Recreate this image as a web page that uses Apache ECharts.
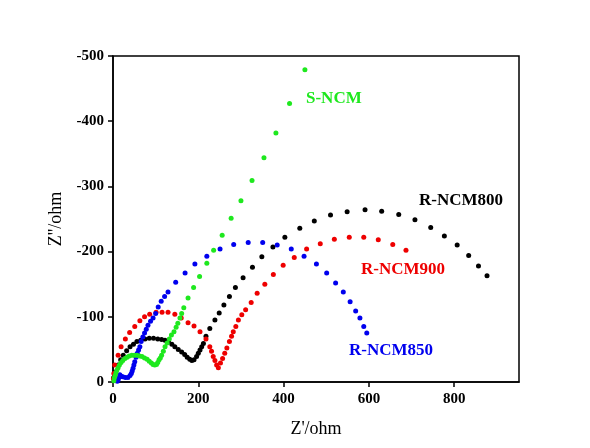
<!DOCTYPE html>
<html>
<head>
<meta charset="utf-8">
<script src="https://cdn.jsdelivr.net/npm/echarts@6/dist/echarts.min.js"></script>
<style>
html,body{margin:0;padding:0;background:#fff;}
#chart{width:590px;height:448px;}
</style>
</head>
<body>
<div id="chart"></div>
<script>
// Z' (ohm) and Z'' (ohm) pairs
const rNCM800 = [[1,-6],[5,-15],[12,-26],[18,-34],[24,-41],[32,-48],[40,-54],[48,-58],[56,-62],[65,-64],[75,-66],[85,-67],[95,-67],[105,-66],[114,-65],[122,-64],[130,-62],[138,-58],[145,-54],[153,-50],[161,-46],[168,-42],[174,-38],[180,-35],[185,-33],[190,-34],[196,-39],[200,-44],[204,-49],[208,-54],[212,-59],[218,-70],[227,-82],[239,-95],[249,-106],[260,-118],[273,-131],[287,-145],[305,-160],[327,-176],[349,-192],[375,-207],[403,-222],[438,-236],[472,-247],[510,-256],[549,-261],[591,-264],[630,-262],[670,-257],[708,-249],[745,-237],[777,-224],[807,-210],[834,-194],[857,-178],[877,-163]];
const rNCM900 = [[1,-5],[2,-13],[4,-26],[12,-41],[19,-54],[29,-66],[39,-76],[51,-85],[63,-94],[74,-100],[86,-104],[101,-107],[115,-107],[129,-107],[145,-104],[160,-98],[176,-91],[190,-86],[204,-77],[218,-66],[227,-54],[231,-47],[235,-39],[239,-33],[243,-26],[247,-22],[252,-29],[257,-36],[262,-44],[267,-52],[273,-62],[278,-70],[282,-77],[288,-85],[294,-95],[302,-103],[311,-111],[324,-122],[338,-136],[356,-150],[376,-165],[399,-179],[425,-191],[454,-204],[486,-212],[519,-219],[554,-222],[588,-222],[622,-218],[656,-211],[687,-202]];
const rNCM850 = [[10,-1],[12,-3],[14,-7],[16,-11],[19,-9],[23,-8],[29,-7],[35,-7],[40,-10],[43,-13],[45,-17],[47,-21],[49,-26],[51,-31],[54,-38],[57,-44],[60,-49],[63,-54],[66,-62],[70,-69],[74,-75],[78,-81],[82,-87],[88,-93],[94,-98],[100,-105],[106,-115],[113,-124],[121,-131],[129,-138],[147,-153],[169,-167],[192,-181],[220,-193],[251,-204],[283,-211],[317,-214],[351,-214],[385,-210],[418,-204],[448,-193],[477,-181],[501,-167],[522,-152],[540,-138],[556,-123],[569,-109],[579,-98],[588,-85],[595,-75]];
const sNCM = [[2,-2],[3,-6],[5,-10],[7,-14],[9,-18],[12,-22],[15,-26],[19,-30],[23,-33],[28,-36],[33,-38],[38,-40],[44,-41],[50,-41],[56,-41],[62,-40],[68,-39],[74,-37],[80,-35],[85,-32],[90,-29],[94,-27],[98,-26],[102,-27],[105,-30],[108,-34],[111,-37],[114,-41],[118,-47],[122,-54],[127,-60],[132,-66],[137,-72],[143,-77],[148,-84],[152,-90],[157,-98],[161,-105],[166,-114],[176,-129],[189,-145],[203,-162],[220,-182],[236,-202],[256,-225],[277,-251],[300,-278],[326,-309],[354,-344],[382,-382],[414,-427],[450,-479]];
const xTicks = [0,200,400,600,800];
const seriesNames = ['R-NCM800','R-NCM900','R-NCM850','S-NCM'];
const seriesColors = ['#000000','#ee0000','#0000ee','#1ee81e'];
const seriesData = [rNCM800, rNCM900, rNCM850, sNCM];

const chart = echarts.init(document.getElementById('chart'), null, {renderer:'canvas'});
const FONT = '"Liberation Serif", "Times New Roman", serif';
const option = {
  backgroundColor: '#ffffff',
  animation: false,
  grid: {left:113, right:71, top:56, bottom:66, show:true, borderColor:'#000', borderWidth:1.5, backgroundColor:'transparent'},
  xAxis: {
    type:'value', min:0, max:952,
    name:"Z'/ohm", nameLocation:'middle', nameGap:38,
    nameTextStyle:{fontFamily:FONT, fontSize:18, color:'#000'},
    axisLine:{show:true, onZero:false, lineStyle:{color:'#000', width:1.5}},
    axisTick:{show:true, length:5, inside:false, customValues:xTicks, lineStyle:{color:'#000', width:1.5}},
    axisLabel:{customValues:xTicks, margin:10, fontFamily:FONT, fontSize:15, fontWeight:'bold', color:'#000'},
    splitLine:{show:false}
  },
  yAxis: {
    type:'value', min:-500, max:0, interval:100, inverse:true,
    name:"Z''/ohm", nameLocation:'middle', nameGap:47, nameRotate:90,
    nameTextStyle:{fontFamily:FONT, fontSize:18, color:'#000'},
    axisLine:{show:true, onZero:false, lineStyle:{color:'#000', width:1.5}},
    axisTick:{show:true, length:5, inside:false, lineStyle:{color:'#000', width:1.5}},
    axisLabel:{margin:9, fontFamily:FONT, fontSize:15, fontWeight:'bold', color:'#000'},
    splitLine:{show:false}
  },
  series: seriesData.map((d,i)=>({
    name: seriesNames[i], type:'scatter', data:d, symbol:'circle', symbolSize:5,
    itemStyle:{color:seriesColors[i], opacity:1}, z: 2+i
  })),
  graphic: [
    {type:'text', left:306, top:90, style:{text:'S-NCM', fill:'#1ee81e', font:'bold 17px "Liberation Serif", serif'}},
    {type:'text', left:419, top:192, style:{text:'R-NCM800', fill:'#000000', font:'bold 17px "Liberation Serif", serif'}},
    {type:'text', left:361, top:261, style:{text:'R-NCM900', fill:'#ee0000', font:'bold 17px "Liberation Serif", serif'}},
    {type:'text', left:349, top:342, style:{text:'R-NCM850', fill:'#0000ee', font:'bold 17px "Liberation Serif", serif'}}
  ]
};
chart.setOption(option);
</script>
</body>
</html>
